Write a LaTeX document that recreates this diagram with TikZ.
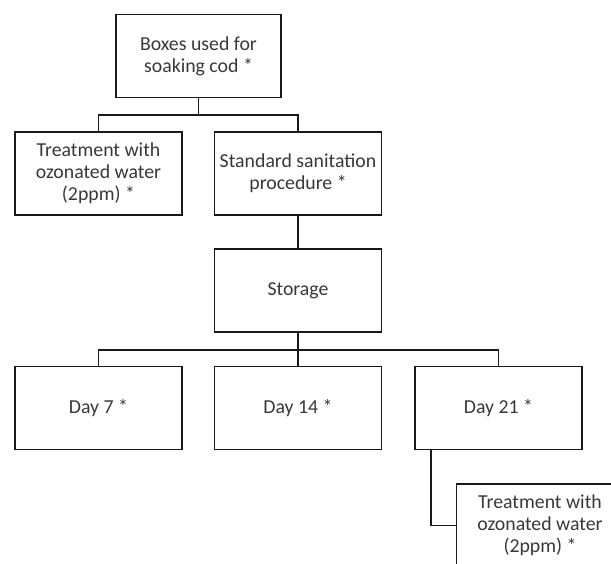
\documentclass[tikz,border=0pt]{standalone}
\usepackage{fontspec}
\setmainfont{Carlito}
\usepackage{tikz}
\usetikzlibrary{
  positioning,
  calc
}

\tikzset{
  flowbox/.style={draw=black!90, line width=1.7pt, minimum width=167pt,
    minimum height=83pt, align=center, inner sep=2pt,
    font=\fontsize{19.8}{22}\selectfont, text=black!78},
  link/.style={draw=black!90, line width=1.7pt}
}

\begin{document}
\begin{tikzpicture}[x=1pt, y=-1pt]

  \clip (0,0) rectangle (611,564);
  \useasboundingbox (0,0) rectangle (611,564);

  %% --- Start and first split ---
  \node[flowbox, minimum width=165pt] (boxes) at (198.5,56) {Boxes used for\\soaking cod *};
  \node[flowbox] (ozone) at (98.5,173.5) {Treatment with\\ozonated water\\(2ppm) *};
  \node[flowbox] (sanit) at (298,173.5) {Standard sanitation\\procedure *};

  %% --- Storage ---
  \node[flowbox] (storage) at (298,290.5) {Storage};

  %% --- Sampling days ---
  \node[flowbox] (day7)  at (98.5,408) {Day 7 *};
  \node[flowbox] (day14) at (298,408)  {Day 14 *};
  \node[flowbox] (day21) at (498.5,408) {Day 21 *};

  %% --- Late treatment ---
  \node[flowbox] (ozonelate) at (540,525.5) {Treatment with\\ozonated water\\(2ppm) *};

  %% --- Connections ---
  \draw[link] (boxes.south) -- ++(0,17) coordinate (fork1);
  \draw[link] (fork1) -| (ozone.north);
  \draw[link] (fork1) -| (sanit.north);
  \draw[link] (sanit.south) -- (storage.north);
  \draw[link] (storage.south) -- ++(0,17) coordinate (fork2);
  \draw[link] (fork2) -| (day7.north);
  \draw[link] (fork2) -- (day14.north);
  \draw[link] (fork2) -| (day21.north);
  \draw[link] ($(day21.south west)+(17,0)$) |- (ozonelate.west);
\end{tikzpicture}
\end{document}
